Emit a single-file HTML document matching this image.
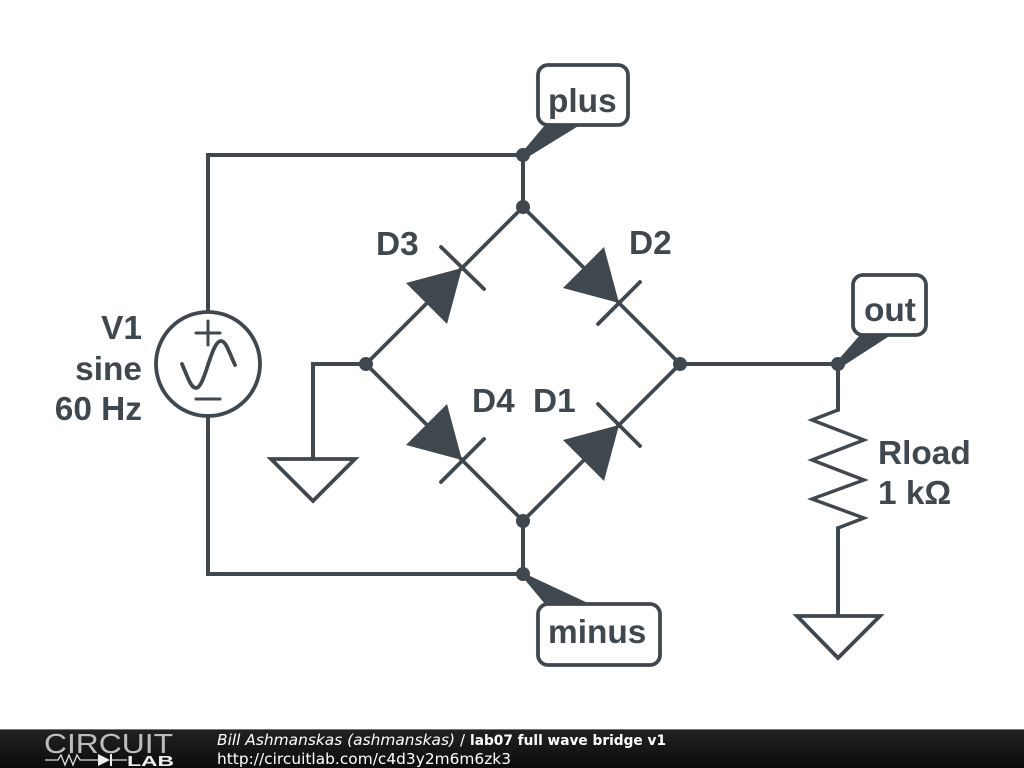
<!DOCTYPE html>
<html><head><meta charset="utf-8"><style>
html,body{margin:0;padding:0;background:#fff;width:1024px;height:768px;overflow:hidden}
svg{display:block}
</style></head><body>
<svg width="1024" height="768" viewBox="0 0 1024 768" xmlns="http://www.w3.org/2000/svg">
<defs><linearGradient id="f" x1="0" y1="0" x2="0" y2="1"><stop offset="0" stop-color="#222"/><stop offset="1" stop-color="#0c0c0c"/></linearGradient></defs>
<rect width="1024" height="768" fill="#fff"/>
<g fill="none" stroke="#3f484e" stroke-width="4" stroke-linecap="round" stroke-linejoin="miter">
<path d="M523 155H208V312M208 416V574H523"/>
<path d="M523 155V207M523 521V574"/>
<path d="M680 364H838V410M838 528V616"/>
<path d="M366 364H313V459"/>
<g stroke-width="3.8">
<path d="M523 207L680 364L523 521L366 364Z"/>
<path d="M271 459H355L313 501Z"/>
<path d="M797 616H880L838 658Z"/>
<path d="M598 324L640 282M441 247L484 289M441 482L484 439M598 404L640 446"/>
<circle cx="208" cy="364" r="52"/>
<rect x="538" y="65" width="90" height="60" rx="10"/>
<rect x="853" y="275" width="73" height="60" rx="10"/>
<rect x="538" y="604" width="122" height="61" rx="10"/>
<path d="M182 364C188 378 191 388 196 388C205 388 211 341 221 341C226 341 229 352 235 365"/>
</g>
<path d="M838 410L812 420L864 440L812 460L864 480L812 499L864 518L838 528" stroke-width="3.4"/>
<path d="M196 333H220M208 321V345M196 399H220" stroke-width="3"/>
</g>
<g fill="#3f484e">
<polygon points="619,303 604,247 563,288"/>
<polygon points="462,268 406,283 447,324"/>
<polygon points="462,460 447,404 406,445"/>
<polygon points="619,425 563,440 604,481"/>
<polygon points="524,150 545,125 580,125 528,157"/>
<polygon points="839,359 860,335 891,335 843,366"/>
<polygon points="530,576 590,604 545,604 525,580"/>
<circle cx="523" cy="155" r="7"/><circle cx="523" cy="207" r="7"/><circle cx="366" cy="364" r="7"/><circle cx="680" cy="364" r="7"/><circle cx="838" cy="364" r="7"/><circle cx="523" cy="521" r="7"/><circle cx="523" cy="574" r="7"/>
</g>
<g font-family="'Liberation Sans',sans-serif" font-weight="700" font-size="33.4" fill="#3f484e">
<text x="548" y="112">plus</text>
<text x="864" y="321">out</text>
<text x="548" y="643">minus</text>
<text x="376" y="255">D3</text>
<text x="629" y="254">D2</text>
<text x="472" y="412">D4</text>
<text x="533" y="412">D1</text>
<text x="142" y="339" text-anchor="end">V1</text>
<text x="142" y="380" text-anchor="end">sine</text>
<text x="142" y="420" text-anchor="end">60 Hz</text>
<text x="878" y="464">Rload</text>
<text x="878" y="504">1 kΩ</text>
</g>
<rect x="0" y="729" width="1024" height="39" fill="url(#f)"/>
<rect x="0" y="729" width="1024" height="1" fill="#777"/>
<text x="44" y="753" font-family="'Liberation Sans',sans-serif" font-size="28" fill="#bdbdbd" textLength="129" lengthAdjust="spacingAndGlyphs">CIRCUIT</text>
<path d="M45 760H58L61 755L65 765L69 755L73 765L77 755L80 760H98M111 760H127" fill="none" stroke="#ddd" stroke-width="1.3"/>
<polygon points="98,754 98,766 110,760" fill="#eee"/>
<rect x="110" y="754" width="2" height="12" fill="#eee"/>
<text x="127" y="766" font-family="'Liberation Sans',sans-serif" font-weight="700" font-size="15" fill="#eee" textLength="47" lengthAdjust="spacingAndGlyphs">LAB</text>
<g font-family="'DejaVu Sans',sans-serif" font-size="15" fill="#fff">
<text x="217" y="745" font-style="italic" textLength="238" lengthAdjust="spacingAndGlyphs">Bill Ashmanskas (ashmanskas)</text>
<text x="460" y="745">/</text>
<text x="470" y="745" font-weight="700" font-size="14.5" textLength="196" lengthAdjust="spacingAndGlyphs">lab07 full wave bridge v1</text>
<text x="217" y="764" textLength="294" lengthAdjust="spacingAndGlyphs">http://circuitlab.com/c4d3y2m6m6zk3</text>
</g>
</svg>
</body></html>
